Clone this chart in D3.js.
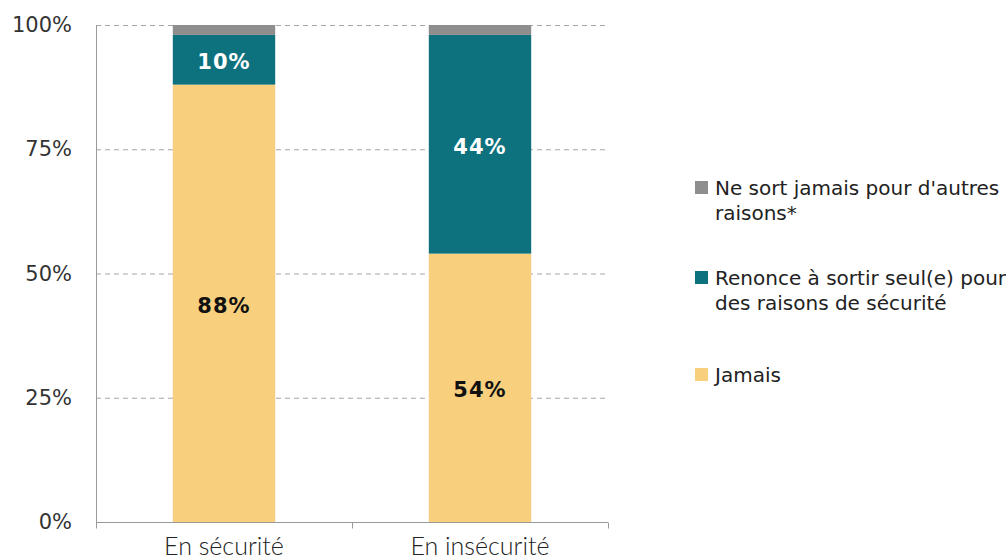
<!DOCTYPE html>
<html><head><meta charset="utf-8">
<script src="https://cdn.jsdelivr.net/npm/d3@7"></script>
<style>body{margin:0;background:#fff}</style>
</head><body>
<svg id="c" width="1006" height="559"></svg>
<script>
const categories = ["En sécurité", "En insécurité"];
const jamais = [88, 54];
const renonce = [10, 44];
const autres = [2, 2];
const seriesNames = ["Jamais", "Renonce à sortir seul(e) pour des raisons de sécurité", "Ne sort jamais pour d'autres raisons*"];
const yTicks = [0, 25, 50, 75, 100];
const colors = ["#F8CF7D", "#0E717E", "#8E8E8E"];

const svg = d3.select("#c");
const m = {l: 96, r: 608, t: 25, b: 522};
const x = d3.scaleBand().domain(categories).range([m.l, m.r]).paddingInner(0.6).paddingOuter(0.3);
const y = d3.scaleLinear().domain([0, 100]).range([m.b, m.t]);

const rows = categories.map((c, i) => ({cat: c, Jamais: jamais[i], Renonce: renonce[i], Autres: autres[i]}));
const keys = ["Jamais", "Renonce", "Autres"];
const stack = d3.stack().keys(keys)(rows);

// grid
svg.append("g").selectAll("line").data(yTicks.filter(d => d > 0)).join("line")
  .attr("x1", m.l).attr("x2", m.r).attr("y1", d => y(d) + 0.5).attr("y2", d => y(d) + 0.5)
  .attr("stroke", "#a6a6a6").attr("stroke-dasharray", "5,4").attr("stroke-width", 1);

// bars
stack.forEach((s, si) => {
  svg.append("g").selectAll("rect").data(s).join("rect")
    .attr("x", d => x(d.data.cat)).attr("width", x.bandwidth())
    .attr("y", d => y(d[1])).attr("height", d => y(d[0]) - y(d[1]))
    .attr("fill", colors[si]);
});

// value labels
[[0, "#111"], [1, "#fff"]].forEach(([si, col]) => {
  svg.append("g").selectAll("text").data(stack[si]).join("text")
    .attr("x", d => x(d.data.cat) + x.bandwidth() / 2)
    .attr("y", d => (y(d[0]) + y(d[1])) / 2 + 2)
    .attr("dy", "0.36em").attr("text-anchor", "middle")
    .attr("font-family", "DejaVu Sans").attr("font-weight", "bold").attr("font-size", 21)
    .attr("letter-spacing", 1)
    .attr("fill", col).text(d => (d[1] - d[0]) + "%");
});

// y axis
const ya = svg.append("g").attr("transform", `translate(${m.l},0)`)
  .call(d3.axisLeft(y).tickValues(yTicks).tickFormat(d => d + "%").tickSize(0).tickPadding(24));
ya.select(".domain").attr("stroke", "#9a9a9a").attr("d", `M0.5,${m.t}V${m.b}`);
ya.selectAll("text").attr("font-family", "DejaVu Sans").attr("font-size", 21).attr("fill", "#333");

// x axis
const xa = svg.append("g").attr("transform", `translate(0,${m.b + 0.5})`);
xa.append("line").attr("x1", m.l).attr("x2", m.r).attr("stroke", "#9a9a9a");
const bounds = [m.l, (m.l + m.r) / 2, m.r];
xa.selectAll(".tk").data(bounds).join("line").attr("class", "tk")
  .attr("x1", d => d + 0.5).attr("x2", d => d + 0.5).attr("y1", 0).attr("y2", 6).attr("stroke", "#9a9a9a");
xa.selectAll("text").data(categories).join("text")
  .attr("x", d => x(d) + x.bandwidth() / 2).attr("y", 32).attr("text-anchor", "middle")
  .attr("font-family", "Lato").attr("font-weight", 300).attr("font-size", 25).attr("fill", "#222")
  .text(d => d);

// legend
const leg = [
  {i: 2, lines: ["Ne sort jamais pour d'autres", "raisons*"], y: 195},
  {i: 1, lines: ["Renonce à sortir seul(e) pour", "des raisons de sécurité"], y: 285},
  {i: 0, lines: ["Jamais"], y: 382}
];
const lg = svg.append("g");
leg.forEach(L => {
  lg.append("rect").attr("x", 695).attr("y", L.y - 14).attr("width", 13).attr("height", 13).attr("fill", colors[L.i]);
  const t = lg.append("text").attr("font-family", "DejaVu Sans").attr("font-size", 20).attr("fill", "#222");
  L.lines.forEach((ln, k) => t.append("tspan").attr("x", 715).attr("y", L.y + k * 25).text(ln));
});
</script>
</body></html>
